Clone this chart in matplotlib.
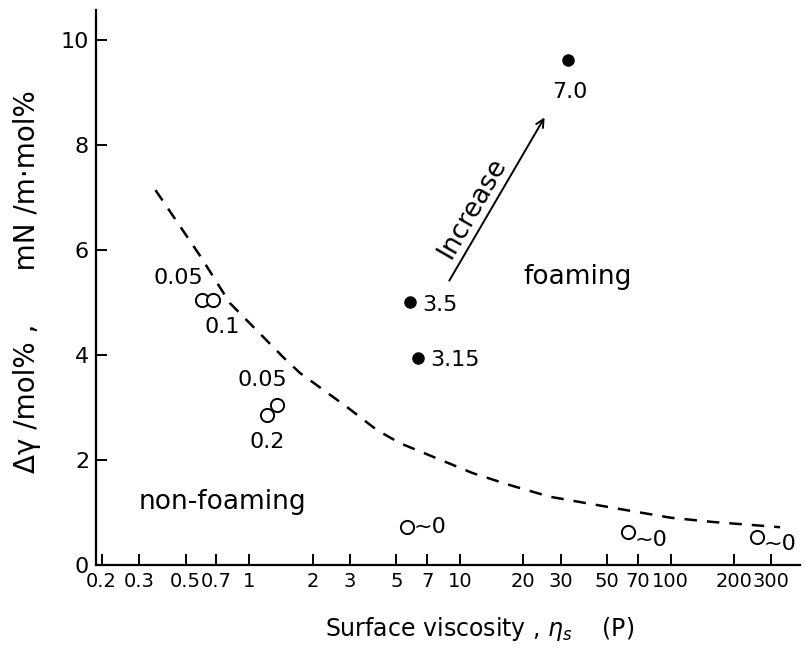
import matplotlib
matplotlib.use('Agg')
import matplotlib.pyplot as plt
from matplotlib.ticker import FixedLocator, NullFormatter

plt.rcParams['font.family'] = ['DejaVu Sans']

# open symbols: non-foaming systems (surface viscosity in P, delta gamma per mol%)
pair1_visc = [0.60, 0.675]
pair1_dg = [5.05, 5.05]
pair1_conc = ['0.05', '0.1']
pair2_visc = [1.36, 1.22]
pair2_dg = [3.05, 2.86]
pair2_conc = ['0.05', '0.2']
zero_visc = [5.6, 62.5, 256]
zero_dg = [0.72, 0.63, 0.53]

# filled symbols: foaming systems
foam_visc = [5.8, 6.3, 32.5]
foam_dg = [5.01, 3.94, 9.62]
foam_conc = ['3.5', '3.15', '7.0']

# dashed foaming / non-foaming boundary
bound_visc = [0.36, 0.59, 0.81, 1.45, 1.74, 2.91, 4.04, 5.2, 11.5, 17.3, 26.7, 53, 100, 158, 330]
bound_dg = [7.14, 5.87, 4.99, 3.96, 3.66, 3.01, 2.57, 2.32, 1.75, 1.52, 1.30, 1.09, 0.90, 0.82, 0.72]

xticks = [0.2, 0.3, 0.5, 0.7, 1, 2, 3, 5, 7, 10, 20, 30, 50, 70, 100, 200, 300]
xtick_labels = ['0.2', '0.3', '0.5', '0.7', '1', '2', '3', '5', '7', '10',
                '20', '30', '50', '70', '100', '200', '300']
yticks = [0, 2, 4, 6, 8, 10]

fig = plt.figure(figsize=(8.05, 6.51), dpi=100)
ax = fig.add_axes([96 / 805, 1 - 565 / 651, 704 / 805, 555 / 651])

ax.plot(bound_visc, bound_dg, color='black', lw=1.8, dashes=(5, 4))

open_kw = dict(marker='o', ls='none', ms=9.5, mfc='white', mec='black', mew=1.4)
ax.plot(pair1_visc, pair1_dg, **open_kw)
ax.plot(pair2_visc, pair2_dg, **open_kw)
ax.plot(zero_visc, zero_dg, **open_kw)
ax.plot(foam_visc, foam_dg, marker='o', ls='none', ms=8, mfc='black', mec='black')

lab = dict(textcoords='offset pixels', fontsize=16, va='center')
ax.annotate(pair1_conc[0], (pair1_visc[0], pair1_dg[0]), xytext=(-24, 22), ha='center', **lab)
ax.annotate(pair1_conc[1], (pair1_visc[1], pair1_dg[1]), xytext=(9, -27), ha='center', **lab)
ax.annotate(pair2_conc[0], (pair2_visc[0], pair2_dg[0]), xytext=(-15, 25), ha='center', **lab)
ax.annotate(pair2_conc[1], (pair2_visc[1], pair2_dg[1]), xytext=(0, -27), ha='center', **lab)
ax.annotate(foam_conc[0], (foam_visc[0], foam_dg[0]), xytext=(12, -3), ha='left', **lab)
ax.annotate(foam_conc[1], (foam_visc[1], foam_dg[1]), xytext=(13, -2), ha='left', **lab)
ax.annotate(foam_conc[2], (foam_visc[2], foam_dg[2]), xytext=(2, -32), ha='center', **lab)
for xv, yv, dy in zip(zero_visc, zero_dg, [0, -8, -7]):
    ax.annotate('~0', (xv, yv), xytext=(7, dy), ha='left', **lab)

ax.annotate('', xy=(25.6, 8.57), xytext=(8.77, 5.37),
            arrowprops=dict(arrowstyle='->', color='black', lw=1.4, mutation_scale=14))
ax.text(11.4, 6.8, 'Increase', rotation=60, fontsize=19, ha='center', va='center')
ax.text(36, 5.49, 'foaming', fontsize=19, ha='center', va='center')
ax.text(0.75, 1.2, 'non-foaming', fontsize=19, ha='center', va='center')

ax.set_xscale('log')
ax.set_xlim(0.188, 410)
ax.set_ylim(0, 10.57)
ax.xaxis.set_major_locator(FixedLocator(xticks))
ax.set_xticklabels(xtick_labels)
ax.xaxis.set_minor_locator(FixedLocator([10, 100]))
ax.xaxis.set_minor_formatter(NullFormatter())
ax.set_yticks(yticks)

ax.tick_params(which='major', direction='in', length=8, width=1.4, labelsize=14, pad=5)
ax.tick_params(axis='y', labelsize=16)
ax.tick_params(axis='x', which='minor', direction='in', length=18, width=1.4)
ax.tick_params(axis='y', which='minor', left=False)
for s in ['top', 'right']:
    ax.spines[s].set_visible(False)
for s in ['left', 'bottom']:
    ax.spines[s].set_linewidth(1.6)

ax.set_xlabel(r'Surface viscosity , $\eta_s$    (P)', fontsize=17)
ax.xaxis.set_label_coords(0.545, -0.09)
ax.set_ylabel('Δγ /mol% ,      mN /m·mol%', fontsize=20)
ax.yaxis.set_label_coords(-0.078, 0.51)

fig.savefig('out.png', dpi=100)
